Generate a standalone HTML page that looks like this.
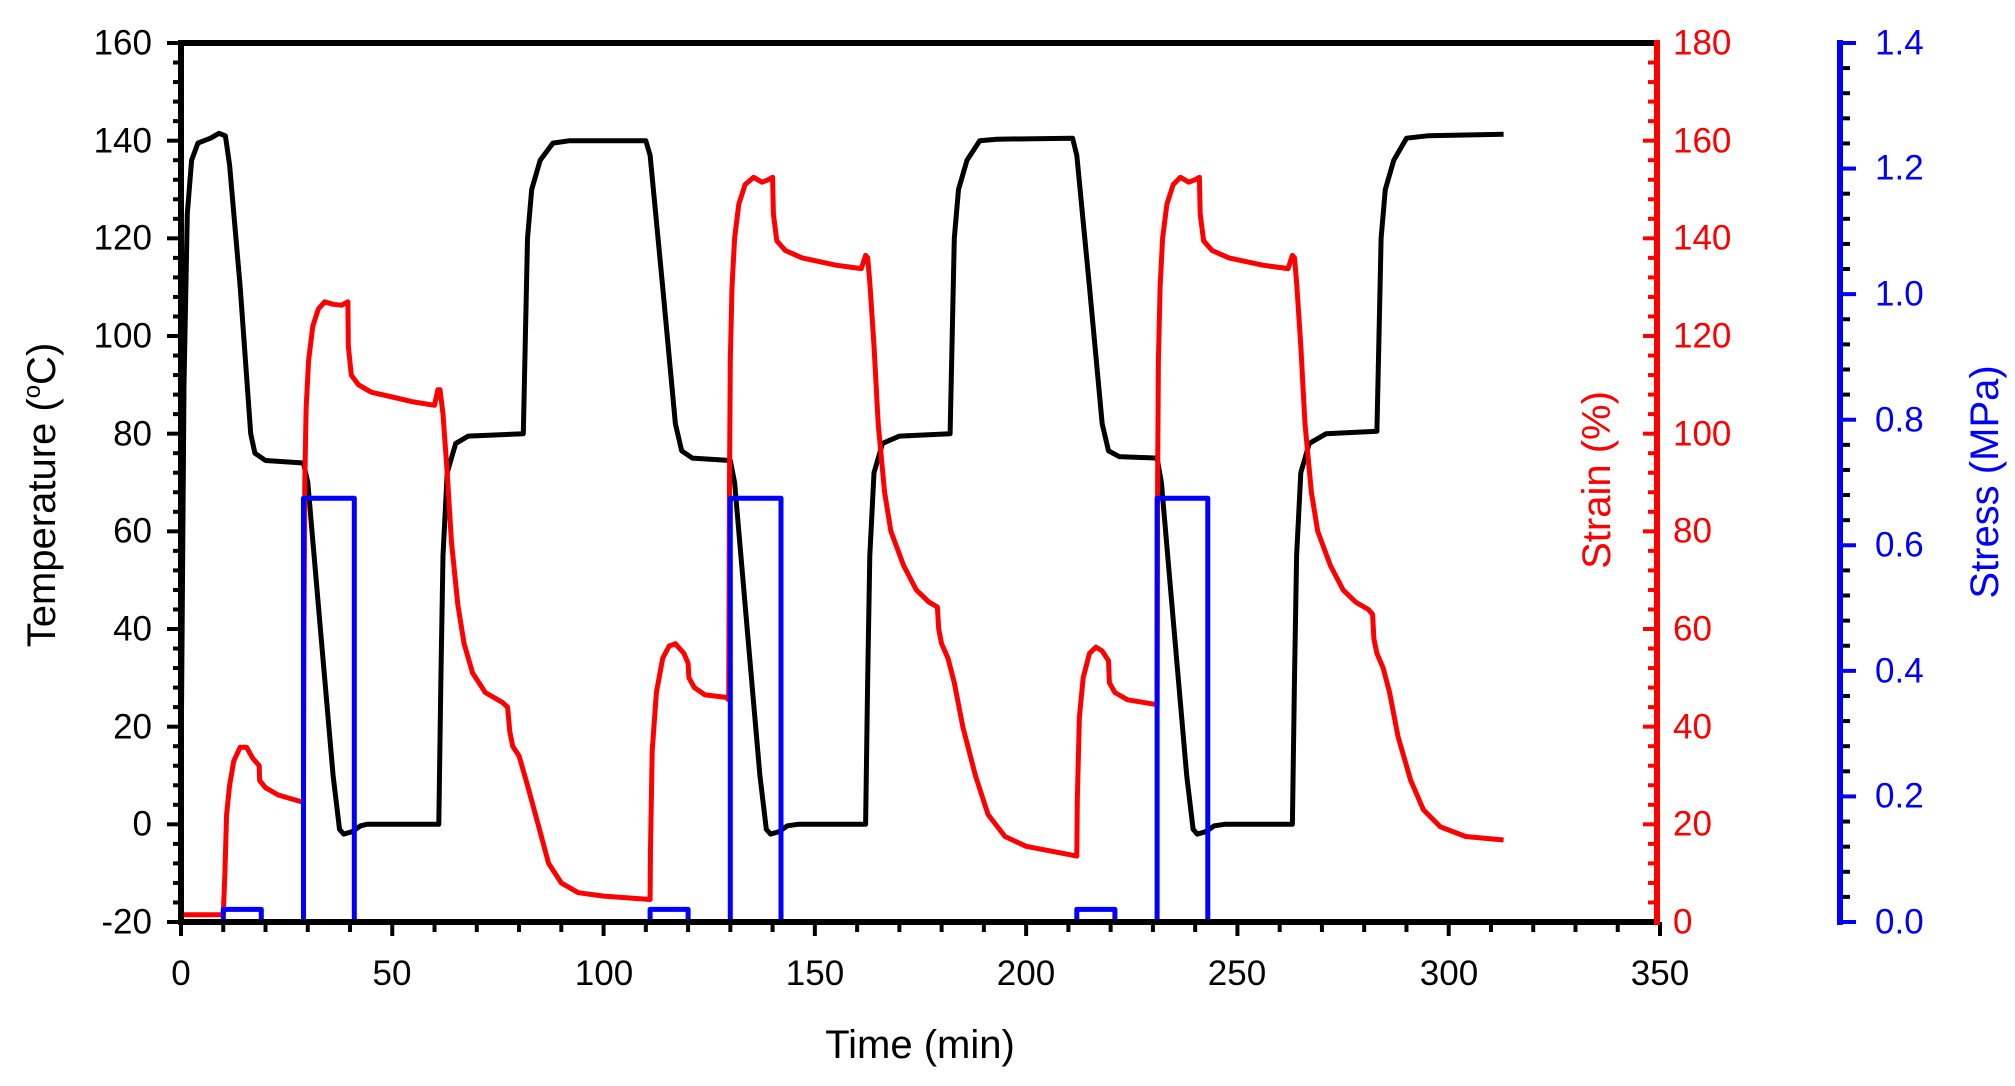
<!DOCTYPE html>
<html><head><meta charset="utf-8"><style>
html,body{margin:0;padding:0;background:#fff;}
svg{display:block;}
text{font-family:"Liberation Sans",Arial,sans-serif;}
</style></head><body>
<svg id="s" width="2015" height="1086" viewBox="0 0 2015 1086" xmlns="http://www.w3.org/2000/svg">
<g id="ticks"></g>
<g id="series"></g>
<line x1="181" y1="43" x2="1657" y2="43" stroke="#000" stroke-width="6"/>
<line x1="181" y1="922" x2="1660" y2="922" stroke="#000" stroke-width="6"/>
<line x1="181" y1="40" x2="181" y2="925" stroke="#000" stroke-width="6"/>
<line x1="1657" y1="40" x2="1657" y2="925" stroke="#f00" stroke-width="6"/>
<line x1="1840" y1="40" x2="1840" y2="925" stroke="#00f" stroke-width="6"/>
<g font-size="35" fill="#000" text-anchor="end" dominant-baseline="central">
<text x="152" y="922">-20</text><text x="152" y="824">0</text><text x="152" y="727">20</text><text x="152" y="629">40</text><text x="152" y="531">60</text><text x="152" y="434">80</text><text x="152" y="336">100</text><text x="152" y="238">120</text><text x="152" y="141">140</text><text x="152" y="43">160</text>
</g>
<g font-size="35" fill="#f00" text-anchor="start" dominant-baseline="central">
<text x="1673" y="922">0</text><text x="1673" y="824">20</text><text x="1673" y="727">40</text><text x="1673" y="629">60</text><text x="1673" y="531">80</text><text x="1673" y="434">100</text><text x="1673" y="336">120</text><text x="1673" y="238">140</text><text x="1673" y="141">160</text><text x="1673" y="43">180</text>
</g>
<g font-size="35" fill="#00f" text-anchor="start" dominant-baseline="central">
<text x="1875" y="922">0.0</text><text x="1875" y="796">0.2</text><text x="1875" y="671">0.4</text><text x="1875" y="545">0.6</text><text x="1875" y="420">0.8</text><text x="1875" y="294">1.0</text><text x="1875" y="168">1.2</text><text x="1875" y="43">1.4</text>
</g>
<g font-size="35" fill="#000" text-anchor="middle">
<text x="181" y="985">0</text><text x="392" y="985">50</text><text x="604" y="985">100</text><text x="815" y="985">150</text><text x="1026" y="985">200</text><text x="1237" y="985">250</text><text x="1449" y="985">300</text><text x="1660" y="985">350</text>
</g>
<text x="920" y="1058" font-size="40" text-anchor="middle">Time (min)</text>
<text transform="translate(55,495) rotate(-90)" font-size="40" text-anchor="middle">Temperature (<tspan font-size="24" dy="-15">o</tspan><tspan dy="15">C)</tspan></text>
<text transform="translate(1610,480) rotate(-90)" font-size="40" fill="#f00" text-anchor="middle">Strain (%)</text>
<text transform="translate(1998,482) rotate(-90)" font-size="40" fill="#00f" text-anchor="middle">Stress (MPa)</text>
</svg>
<script>
var NS="http://www.w3.org/2000/svg";
function X(t){return 181+t*4.2257;}
function YT(T){return 922-4.8833*(T+20);}
function YS(s){return 922-4.8833*s;}
function YP(p){return 922-627.86*p;}
function line(g,x1,y1,x2,y2,c,w){var l=document.createElementNS(NS,"line");l.setAttribute("x1",x1);l.setAttribute("y1",y1);l.setAttribute("x2",x2);l.setAttribute("y2",y2);l.setAttribute("stroke",c);l.setAttribute("stroke-width",w);g.appendChild(l);}
var tk=document.getElementById("ticks");
for(var i=0;i<=45;i++){var T=-20+i*4,y=YT(T),maj=i%5==0;line(tk,maj?167:173,y,181,y,"#000",4);}
for(var i=0;i<=45;i++){var y=YS(i*4),maj=i%5==0;line(tk,1657,y,maj?1643:1648,y,"#f00",4);}
for(var i=0;i<=35;i++){var y=YP(i*0.04),maj=i%5==0;line(tk,1840,y,maj?1856:1850,y,maj?"#00f":"#000",4);}
for(var i=0;i<=35;i++){var x=X(i*10),maj=i%5==0;line(tk,x,922,x,maj?936:932,"#000",4);}
function poly(pts,fx,fy,c){var p=document.createElementNS(NS,"polyline");p.setAttribute("points",pts.map(function(q){return fx(q[0]).toFixed(1)+","+fy(q[1]).toFixed(1)}).join(" "));p.setAttribute("fill","none");p.setAttribute("stroke",c);p.setAttribute("stroke-width",5);p.setAttribute("stroke-linejoin","round");document.getElementById("series").appendChild(p);}
var temp=[[0,10],[0.7,90],[1.5,125],[2.5,136],[4,139.5],[7,140.5],[9,141.5],[10.5,141],[11.5,135],[14,110],[16.5,80],[17.5,76],[20,74.5],[29,74],[30,70],[33,40],[36,10],[37.5,-1],[38.5,-2],[40.5,-1.5],[42.5,-0.3],[44,0],[61,0],[61.5,30],[62,55],[63,72],[65,78],[68,79.5],[81,80],[81.5,100],[82,120],[83,130],[85,136],[88,139.5],[92,140],[110,140],[111,137],[114,110],[117,82],[118.5,76.5],[121,75],[130,74.5],[131,70],[134,40],[137,10],[138.5,-1],[139.5,-2],[141.5,-1.5],[143.5,-0.3],[146,0],[162,0],[162.5,30],[163,55],[164,72],[166,78],[170,79.5],[182,80],[182.5,100],[183,120],[184,130],[186,136],[189,140],[193,140.3],[211,140.5],[212,137],[215,110],[218,82],[219.5,76.5],[222,75.3],[231,75],[232,70],[235,40],[238,10],[239.5,-1],[240.5,-2],[242.5,-1.5],[244.5,-0.3],[247,0],[263,0],[263.5,30],[264,55],[265,72],[267,78],[271,80],[283,80.5],[283.5,100],[284,120],[285,130],[287,136],[290,140.5],[295,141],[313,141.3]];
var strain=[[0,1.5],[10,1.5],[10.4,10],[10.8,22],[11.5,28],[12.5,33],[14,35.8],[15.5,35.8],[17,33.5],[18.5,32],[18.6,29],[20,27.5],[23,26],[29,24.5],[29.1,60],[29.3,90],[29.6,105],[30.2,115],[31.2,122],[32.5,125.5],[34,127],[36,126.5],[38,126.3],[39.5,127],[39.6,118],[40.3,112],[42,110],[45,108.5],[50,107.5],[55,106.5],[60,105.8],[60.8,109],[61.3,109],[62,104],[63,92],[64,78],[65.5,65],[67,57],[69,51],[72,47],[76,45],[77.3,44],[77.8,39],[78.5,36],[80,34],[82,28],[84.5,20],[87,12],[90,8],[94,6],[100,5.3],[105,5],[111,4.6],[111.1,15],[111.5,35],[112.5,47],[114,54],[115.5,56.5],[117,57],[119,55],[120,53],[120.2,50],[121.5,48],[124,46.5],[129,46],[129.6,45.5],[129.8,90],[130,115],[130.4,130],[131,140],[132,147],[133.5,151],[135.5,152.5],[137.5,151.5],[139,152],[140,152.5],[140.2,145],[141,139.5],[143,137.5],[147,136],[155,134.5],[161,133.8],[162,136.5],[162.5,136],[163,131],[164,118],[165,102],[166.5,88],[168,80],[171,73],[174,68],[177,65.5],[179,64.5],[179.3,60],[180,57],[181.5,54],[183,49],[185,40],[188,30],[191,22],[195,17.5],[200,15.5],[206,14.5],[212,13.5],[212.1,25],[212.6,42],[213.5,50],[215,55],[216.5,56.3],[218,55.5],[219.5,53.5],[219.7,49],[221,47],[224,45.5],[231,44.5],[231.1,90],[231.3,115],[231.7,130],[232.3,140],[233.3,147],[234.8,151],[236.5,152.5],[238.5,151.5],[240,152],[241,152.5],[241.2,145],[242,139.5],[244,137.5],[248,136],[256,134.5],[262,133.8],[263,136.5],[263.5,136],[264,131],[265,118],[266,102],[267.5,88],[269,80],[272,73],[275,68],[278,65.5],[281,64],[282,63],[282.3,58],[283,55],[284.5,52],[286,47],[288,38],[291,29],[294,23],[298,19.5],[304,17.5],[313,16.8]];
var stress=[[0,0],[10,0],[10,0.02],[19,0.02],[19,0],[29,0],[29,0.675],[41,0.675],[41,0],[111,0],[111,0.02],[120,0.02],[120,0],[130,0],[130,0.675],[142,0.675],[142,0],[212,0],[212,0.02],[221,0.02],[221,0],[231,0],[231,0.675],[243,0.675],[243,0],[313,0]];
poly(temp,X,YT,"#000");
poly(strain,X,YS,"#f00");
poly(stress,X,YP,"#00f");
</script>
</body></html>
